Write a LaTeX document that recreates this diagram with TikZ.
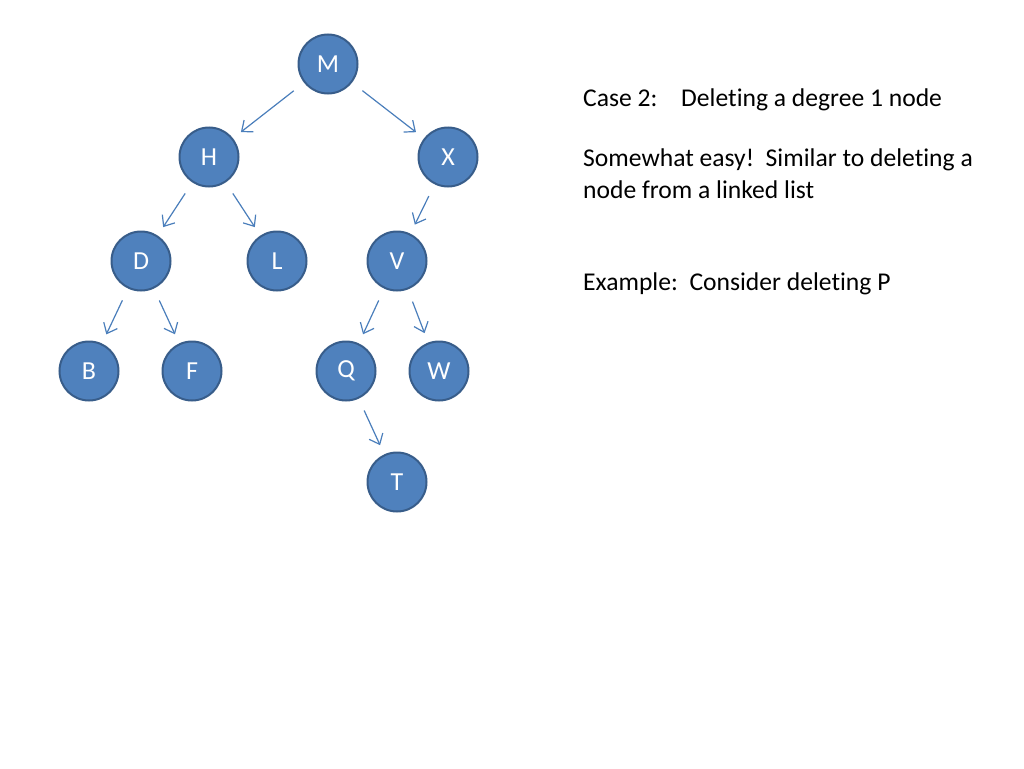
\documentclass[tikz,border=0pt]{standalone}
\usepackage{fontspec}
\setmainfont{Carlito}[Ligatures={NoCommon,NoContextual}]
\usepackage{xcolor}
\usetikzlibrary{arrows.meta}
\definecolor{nodefill}{HTML}{4F81BD}
\definecolor{nodeedge}{HTML}{385D8A}
\definecolor{linkcol}{HTML}{4A7EBB}
\begin{document}
\begin{tikzpicture}[x=1pt,y=-1pt,
    vertex/.style={circle, draw=nodeedge, line width=2pt, fill=nodefill, minimum size=59pt, inner sep=0pt, text=white, font=\fontsize{26}{31}\selectfont},
    link/.style={draw=linkcol, line width=1.2pt, -{Straight Barb[length=9pt,width=15pt,line width=1.2pt]}, shorten <=13pt, shorten >=10pt},
    words/.style={anchor=base west, align=left, inner sep=0pt, font=\fontsize{25.6}{31.4}\selectfont}]
    \useasboundingbox (0,0) rectangle (1024,768);
    \node[vertex] (M) at (328,64)  {M};
    \node[vertex] (H) at (209,157) {H};
    \node[vertex] (X) at (448,157) {X};
    \node[vertex] (D) at (141,261) {D};
    \node[vertex] (L) at (277,261) {L};
    \node[vertex] (V) at (397,261) {V};
    \node[vertex] (B) at (89,371)  {B};
    \node[vertex] (F) at (192,371) {F};
    \node[vertex] (Q) at (346,371) {Q};
    \node[vertex] (W) at (439,371) {W};
    \node[vertex] (T) at (397,482) {T};
    \foreach \a/\b in {M/H, M/X, H/D, H/L, X/V, D/B, D/F, V/Q, V/W, Q/T}
        \draw[link] (\a) -- (\b);
    \node[words] (case) at (583,106) {\makebox[98pt][l]{Case 2:}Deleting a degree 1 node};
    \node[words] (easy) at (583,198) {Somewhat easy!\ \ Similar to deleting a\\node from a linked list};
    \node[words] (example) at (583,290) {Example:\ \ Consider deleting P};
\end{tikzpicture}
\end{document}
